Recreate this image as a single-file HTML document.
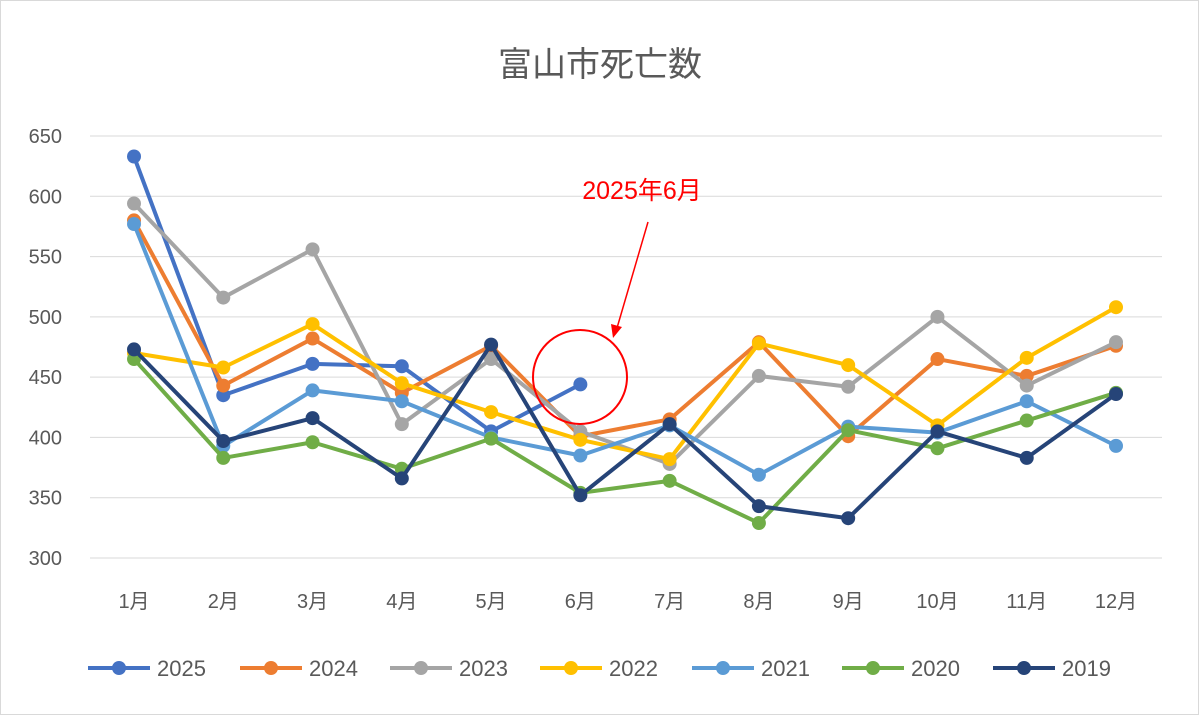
<!DOCTYPE html>
<html><head><meta charset="utf-8">
<style>
html,body{margin:0;padding:0;background:#fff;}
svg{display:block;font-family:"Liberation Sans","Noto Sans CJK JP",sans-serif;}
</style></head>
<body>
<svg id="chart" width="1199" height="715">
<rect x="0.5" y="0.5" width="1198" height="714" fill="#fff" stroke="#d9d9d9"/>
<text x="600" y="76" text-anchor="middle" font-size="34" fill="#595959">富山市死亡数</text>
<g id="grid"></g><g id="series"></g><g id="legend"></g>
<g>
<circle cx="580" cy="377" r="47" fill="none" stroke="#ff0000" stroke-width="2"/>
<line x1="648" y1="222" x2="617" y2="328" stroke="#ff0000" stroke-width="1.5"/>
<polygon points="613,338 611,324 622,327" fill="#ff0000"/>
<text x="642" y="199" text-anchor="middle" font-size="25" fill="#ff0000">2025年6月</text>
</g>
</svg>
<script>
const months=["1月","2月","3月","4月","5月","6月","7月","8月","9月","10月","11月","12月"];
const yTicks=[300,350,400,450,500,550,600,650];
const seriesNames=["2025","2024","2023","2022","2021","2020","2019"];
const colors=["#4472C4","#ED7D31","#A5A5A5","#FFC000","#5B9BD5","#70AD47","#264478"];
const v2025=[633,435,461,459,405,444];
const v2024=[580,443,482,437,476,401,415,479,401,465,451,476];
const v2023=[594,516,556,411,465,405,378,451,442,500,443,479];
const v2022=[470,458,494,445,421,398,382,478,460,410,466,508];
const v2021=[577,393,439,430,400,385,410,369,409,404,430,393];
const v2020=[465,383,396,374,399,354,364,329,406,391,414,437];
const v2019=[473,397,416,366,477,352,411,343,333,405,383,436];
const allData=[v2025,v2024,v2023,v2022,v2021,v2020,v2019];
const NS="http://www.w3.org/2000/svg";
const x=i=>134+i*(1116-134)/11;
const y=v=>558-(v-300)*(558-136)/350;
function mk(t,a,p){const e=document.createElementNS(NS,t);for(const k in a)e.setAttribute(k,a[k]);p.appendChild(e);return e;}
const grid=document.getElementById('grid');
yTicks.forEach(t=>{
 const l=mk('line',{x1:90,x2:1162,y1:y(t),y2:y(t),stroke:'#d9d9d9','stroke-width':1},grid);
 
 
 const tx=mk('text',{x:62,y:y(t)+7,'text-anchor':'end','font-size':20,fill:'#595959'},grid);
 tx.textContent=t;
 
 
});
months.forEach((m,i)=>{
 const tx=mk('text',{x:x(i),y:608,'text-anchor':'middle','font-size':20,fill:'#595959'},grid);
 tx.textContent=m;
 
 
});
const sg=document.getElementById('series');
allData.forEach((d,s)=>{
 const g=mk('g',{},sg);
 
 
 const p=mk('polyline',{points:d.map((v,i)=>x(i)+','+y(v)).join(' '),fill:'none',stroke:colors[s],'stroke-width':4,'stroke-linejoin':'round'},g);
 
 
 d.forEach((v,i)=>{
  const c=mk('circle',{cx:x(i),cy:y(v),r:7,fill:colors[s]},g);
  
  
 });
});
const lg=document.getElementById('legend');
const lx=[88,240,390,540,692,842,993];
seriesNames.forEach((n,s)=>{
 const g=mk('g',{},lg);
 
 
 mk('line',{x1:lx[s],x2:lx[s]+62,y1:668,y2:668,stroke:colors[s],'stroke-width':4},g);
 mk('circle',{cx:lx[s]+31,cy:668,r:7,fill:colors[s]},g);
 const t=mk('text',{x:lx[s]+69,y:676,'font-size':22,fill:'#595959'},g);
 t.textContent=n;
});
</script>
</body></html>
